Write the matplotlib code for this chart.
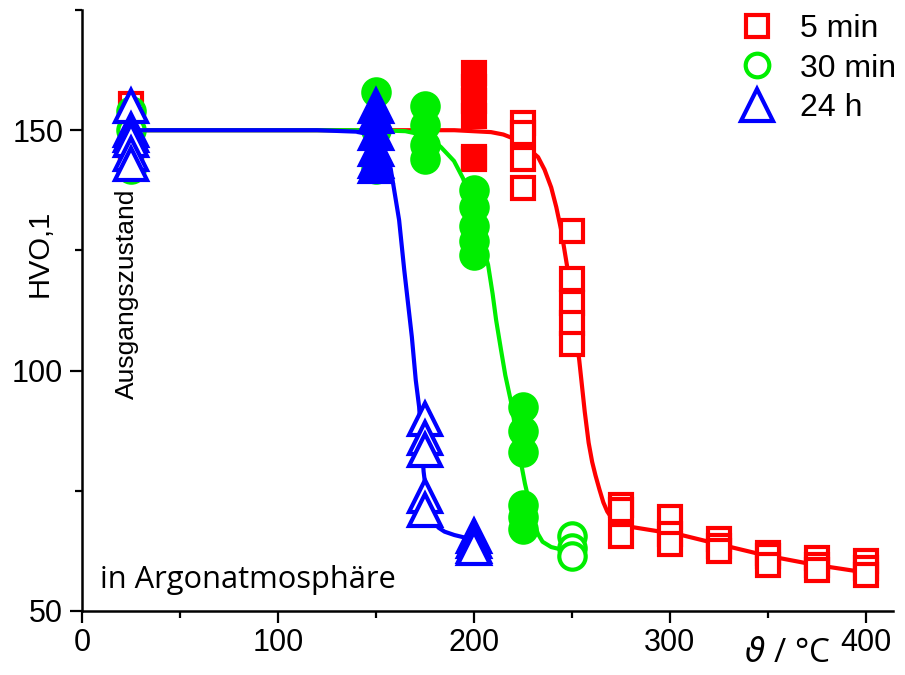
import matplotlib
matplotlib.use("Agg")
import matplotlib.pyplot as plt
from matplotlib.lines import Line2D
from matplotlib.ticker import MultipleLocator

# ---- measured hardness HV0.1 vs. annealing temperature ----
# 5 min (open squares) and a batch of filled squares at 200 °C
red_x = [25, 25, 25, 25, 25,
         225, 225, 225, 225,
         250, 250, 250, 250, 250,
         275, 275, 275,
         300, 300, 300,
         325, 325, 325,
         350, 350, 350,
         375, 375, 375,
         400, 400, 400]
red_y = [155.5, 151, 148, 145, 142.5,
         151.5, 149.5, 144, 138,
         129, 119, 114, 110, 105.5,
         72, 71, 65.5,
         69.5, 66, 64,
         65, 63.5, 62.5,
         62, 61.5, 59.5,
         61, 59.5, 58.5,
         60.5, 59, 57.5]
red_fill_x = [200, 200, 200, 200, 200, 200]
red_fill_y = [162, 159, 156, 153, 144.5, 144]

# 30 min (open circles) and filled circles
green_x = [25, 25, 25, 25, 250, 250, 250]
green_y = [154, 150, 146, 142, 65.5, 63, 61.5]
green_fill_x = [150, 150, 150,
                175, 175, 175, 175,
                200, 200, 200, 200, 200,
                225, 225, 225, 225, 225, 225]
green_fill_y = [158, 150, 142,
                155, 151, 147, 144,
                137.5, 134, 130, 127, 124,
                92.5, 87.5, 83, 72, 69.5, 67]

# 24 h (open triangles) and filled triangles at 150 °C
blue_x = [25, 25, 25, 25, 25, 25,
          175, 175, 175, 175, 175,
          200, 200, 200, 200]
blue_y = [155, 150, 149, 148, 145, 143,
          90, 86, 83.5, 74, 71,
          65.5, 64.5, 63.5, 63]
blue_fill_x = [150, 150, 150, 150, 150, 150]
blue_fill_y = [155, 153, 149.5, 146, 143.5, 142.5]

# ---- fitted curves ----
red_fit_x = [25, 190, 208.7, 215, 220, 226, 232.7, 236, 239.4, 242, 244.5, 247.6,
             250.5, 253.7, 256.5, 258.5, 260.3, 262, 264, 266, 268, 270, 272, 276, 280,
             305.9, 322.8, 348.3, 374, 400]
red_fit_y = [150, 150, 149.6, 149.1, 148.3, 146.8, 144.4, 141.8, 138.1, 134, 129.2, 121.5,
             112, 102.2, 91.5, 85, 81, 78.2, 75.3, 72.6, 70.7, 69.5, 68.6, 67.9, 67.5,
             65.8, 64.1, 61.6, 59.6, 58]

green_fit_x = [25, 150, 165, 172, 178, 183.1, 189.8, 194.4, 198, 201, 204, 207.2,
               209.5, 211.3, 213.8, 216, 218.9, 221.5, 224, 226, 227.6, 229.5, 231,
               232.7, 235, 239.4, 244.5, 250]
green_fit_y = [150, 150, 149.8, 149.2, 148.2, 146.5, 143.6, 140, 135.5, 131, 126.5, 122,
               116, 110.5, 104.3, 99, 93.5, 87, 80.8, 76.5, 73.7, 70.2, 67.8,
               66, 64.4, 63.3, 62.8, 62.6]

blue_fit_x = [25, 120, 140, 148, 153, 157.5, 161.8, 164.4, 168.3, 170.3, 172, 174.3,
              175.5, 177, 179.7, 182, 185, 190, 195, 200]
blue_fit_y = [150, 150, 149.7, 149, 147.3, 142, 131.3, 121, 107, 98, 92.5, 79,
              75, 71.5, 68.4, 67.3, 66.5, 65.8, 65.3, 64.8]

x_ticks = [0, 100, 200, 300, 400]
y_ticks = [50, 100, 150]
legend_labels = ["5 min", "30 min", "24 h"]

RED, GREEN, BLUE = "#ff0000", "#00ee00", "#0000ff"
plain = ["Liberation Sans", "DejaVu Sans"]
humanist = ["Open Sans", "DejaVu Sans"]

fig = plt.figure(figsize=(9.05, 6.75), dpi=100)
ax = fig.add_axes([82 / 905, 64 / 675, (893 - 82) / 905, (611 - 10) / 675])
ax.set_xlim(0, 413.8)
ax.set_ylim(50, 175)

lw = 3.0
mew = 3.0
sq_ms, ci_ms, tr_ms = 16, 19, 23

# 5 min
ax.plot(red_fit_x, red_fit_y, color=RED, lw=lw, solid_capstyle="round",
        solid_joinstyle="round", zorder=2)
ax.plot(red_x, red_y, ls="none", marker="s", ms=sq_ms, mfc="white", mec=RED,
        mew=mew, zorder=3)
ax.plot(red_fill_x, red_fill_y, ls="none", marker="s", ms=sq_ms, mfc=RED, mec=RED,
        mew=mew, zorder=3)

# 30 min
ax.plot(green_fit_x, green_fit_y, color=GREEN, lw=lw, solid_capstyle="round",
        solid_joinstyle="round", zorder=4)
ax.plot(green_x, green_y, ls="none", marker="o", ms=ci_ms, mfc="white", mec=GREEN,
        mew=mew, zorder=5)
ax.plot(green_fill_x, green_fill_y, ls="none", marker="o", ms=ci_ms, mfc=GREEN,
        mec=GREEN, mew=mew, zorder=5)

# 24 h
ax.plot(blue_fit_x, blue_fit_y, color=BLUE, lw=lw, solid_capstyle="round",
        solid_joinstyle="round", zorder=6)
ax.plot(blue_x, blue_y, ls="none", marker="^", ms=tr_ms, mfc="white", mec=BLUE,
        mew=mew, zorder=7)
ax.plot(blue_fill_x, blue_fill_y, ls="none", marker="^", ms=tr_ms, mfc=BLUE, mec=BLUE,
        mew=mew, zorder=7)

# axes styling
for side in ("top", "right"):
    ax.spines[side].set_visible(False)
for side in ("left", "bottom"):
    ax.spines[side].set_linewidth(1.8)
ax.set_xticks(x_ticks)
ax.set_yticks(y_ticks)
ax.xaxis.set_minor_locator(MultipleLocator(50))
ax.yaxis.set_minor_locator(MultipleLocator(25))
ax.tick_params(which="major", length=8.5, width=1.6, direction="out")
ax.tick_params(which="minor", length=5, width=1.6, direction="out")
ax.tick_params(axis="x", pad=4)
ax.tick_params(axis="y", pad=5)
for lab in ax.get_xticklabels() + ax.get_yticklabels():
    lab.set_fontfamily(plain)
    lab.set_fontsize(22)

# labels and annotations
fig.text(40 / 905, 1 - 253 / 675, "HVO,1", rotation=90, ha="center", va="center",
         fontsize=21, family=plain)
fig.text(787 / 905, 1 - 653 / 675, r"$\vartheta$ / °C", ha="center", va="center",
         fontsize=24, family=humanist)
ax.text(23, 116, "Ausgangszustand", rotation=90, ha="center", va="center",
        fontsize=19, family=plain, zorder=8)
ax.text(9, 56.5, "in Argonatmosphäre", ha="left", va="center", fontsize=22.2,
        family=humanist)

handles = [
    Line2D([], [], ls="none", marker="s", ms=sq_ms, mfc="white", mec=RED, mew=mew),
    Line2D([], [], ls="none", marker="o", ms=17, mfc="white", mec=GREEN, mew=mew),
    Line2D([], [], ls="none", marker="^", ms=tr_ms, mfc="white", mec=BLUE, mew=mew),
]
leg = ax.legend(handles, legend_labels, loc="upper left",
                bbox_to_anchor=(738 / 905, 1 - 14 / 675),
                bbox_transform=fig.transFigure, frameon=False,
                prop={"family": plain, "size": 23}, handlelength=1.2,
                handletextpad=0.75, labelspacing=0.3, borderpad=0.0,
                borderaxespad=0.0)

fig.savefig("out.png", dpi=100)
